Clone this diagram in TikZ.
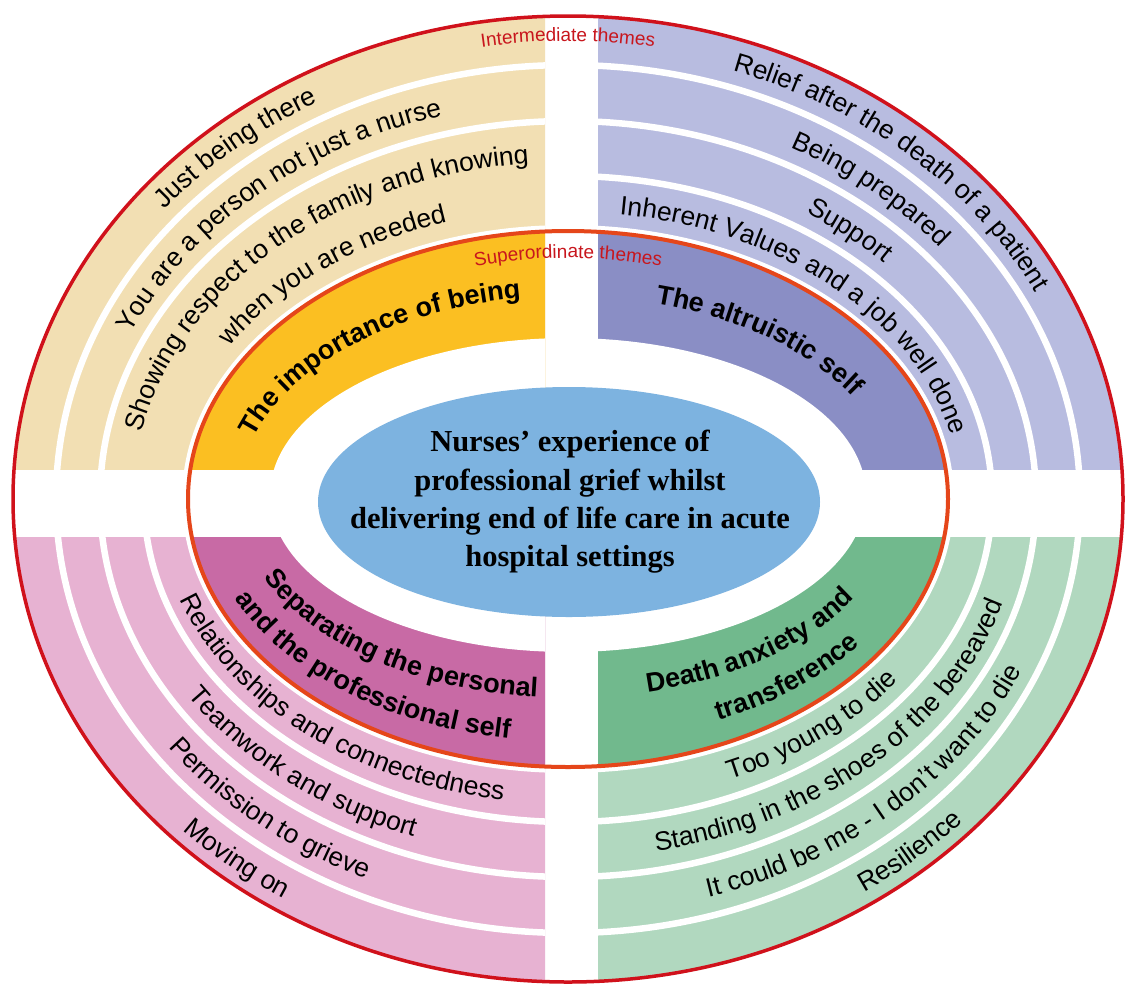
\documentclass[tikz,border=0pt]{standalone}
\usepackage{fontspec}
\setmainfont{Liberation Sans}
\newfontfamily\centerfont{Liberation Serif}
\usetikzlibrary{decorations.text}
\definecolor{tanc}{HTML}{F2DFB3}
\definecolor{yellowc}{HTML}{FBBF22}
\definecolor{lpurple}{HTML}{B8BCE0}
\definecolor{dpurple}{HTML}{8A8EC5}
\definecolor{lpink}{HTML}{E7B2D2}
\definecolor{dpink}{HTML}{C86AA5}
\definecolor{lgreen}{HTML}{B1D8BF}
\definecolor{dgreen}{HTML}{71B98D}
\definecolor{centerblue}{HTML}{7DB3E0}
\definecolor{outerred}{HTML}{D0111B}
\definecolor{innerorange}{HTML}{E5461A}
\definecolor{labelred}{HTML}{C8161D}
\newcommand\ringfont{\fontsize{26.5}{30}\selectfont}
\newcommand\superfont{\fontsize{27}{30}\selectfont\bfseries}
\newcommand\labelfont{\fontsize{19}{22}\selectfont}
\newcommand\RingText[6]{\path[decorate,decoration={text along path,text align=center,text={|#1|#6}}] (#4:#2pt and #3pt) arc[start angle=#4,end angle=#5,x radius=#2pt,y radius=#3pt];}
\newcommand\LabelText[5]{\path[decorate,decoration={text along path,text align=center,text color=labelred,text={|\labelfont|#5}}] (#3:#1pt and #2pt) arc[start angle=#3,end angle=#4,x radius=#1pt,y radius=#2pt];}
\newcommand\Quadrant[4]{%
\begin{scope}
\clip #1;
\fill[#2] (0,0) ellipse[x radius=555pt,y radius=483pt];
\fill[white] (0,0) ellipse[x radius=386pt,y radius=274pt];
\fill[#3] (0,0) ellipse[x radius=380pt,y radius=268pt];
\fill[white] (0pt,4pt) ellipse[x radius=298pt,y radius=157pt];
\foreach \gx/\gy in {#4} {\draw[white,line width=6.5pt] (0,0) ellipse[x radius=\gx,y radius=\gy];}
\end{scope}}
\begin{document}
\begin{tikzpicture}[x=1pt,y=1pt]
\useasboundingbox (0,0) rectangle (1133,-986);
\fill[white] (0,0) rectangle (1133,-986);
\begin{scope}[shift={(568pt,-499pt)}]
% quadrant fills
\Quadrant{(-600,30) rectangle (-23,500)}{tanc}{yellowc}{468pt/378pt,512pt/434pt}
\Quadrant{(30,30) rectangle (600,500)}{lpurple}{dpurple}{424pt/323pt,468pt/378pt,512pt/434pt}
\Quadrant{(-600,-38) rectangle (-23,-500)}{lpink}{dpink}{424pt/323pt,468pt/378pt,512pt/434pt}
\Quadrant{(30,-38) rectangle (600,-500)}{lgreen}{dgreen}{424pt/323pt,468pt/378pt,512pt/434pt}
% outlines
\draw[outerred,line width=3.5pt] (0,0) ellipse[x radius=555pt,y radius=483pt];
\draw[innerorange,line width=4pt] (0,0) ellipse[x radius=380pt,y radius=268pt];
% core
\fill[centerblue] (1pt,-3pt) ellipse[x radius=251pt,y radius=115pt];
\node[align=center,font=\centerfont\bfseries\fontsize{30.5}{38.3}\selectfont] (core) at (2pt,-3pt)
 {Nurses’ experience of\\professional grief whilst\\delivering end of life care in acute\\hospital settings};
% labels
\LabelText{533}{458}{100}{80}{Intermediate themes}
\LabelText{360}{241}{105}{75}{Superordinate themes}
% top-left
\RingText{\ringfont}{526}{451}{148}{111}{Just being there}
\RingText{\ringfont}{481}{397}{165}{97}{You are a person not just a nurse}
\RingText{\ringfont}{435}{337}{179}{87}{Showing respect to the family and knowing}
\RingText{\ringfont}{397}{291}{158}{100}{when you are needed}
% top-right
\RingText{\ringfont}{526}{451}{80}{18}{Relief after the death of a patient}
\RingText{\ringfont}{481}{397}{70}{31}{Being prepared}
\RingText{\ringfont}{437}{341}{65}{35}{Support}
\RingText{\ringfont}{393}{287}{89}{4}{Inherent Values and a job well done}
% bottom-left
\RingText{\ringfont}{411}{305}{190}{268}{Relationships and connectedness}
\RingText{\ringfont}{455}{359}{204}{258}{Teamwork and support}
\RingText{\ringfont}{499}{415}{208}{254}{Permission to grieve}
\RingText{\ringfont}{544}{469}{216}{247}{Moving on}
% bottom-right
\RingText{\ringfont}{411}{305}{286}{332}{Too young to die}
\RingText{\ringfont}{455}{359}{274}{352}{Standing in the shoes of the bereaved}
\RingText{\ringfont}{499}{415}{279}{344}{It could be me - I don’t want to die}
\RingText{\ringfont}{544}{469}{295}{325}{Resilience}
% superordinate
\RingText{\superfont}{330}{203}{172}{92}{The importance of being}
\RingText{\superfont}{330}{203}{82}{20}{The altruistic self}
\RingText{\superfont}{331}{199}{192}{272}{Separating the personal}
\RingText{\superfont}{365}{243}{194}{268}{and the professional self}
\RingText{\superfont}{331}{199}{275}{343}{Death anxiety and}
\RingText{\superfont}{365}{243}{288}{331}{transference}
\end{scope}
\end{tikzpicture}
\end{document}
